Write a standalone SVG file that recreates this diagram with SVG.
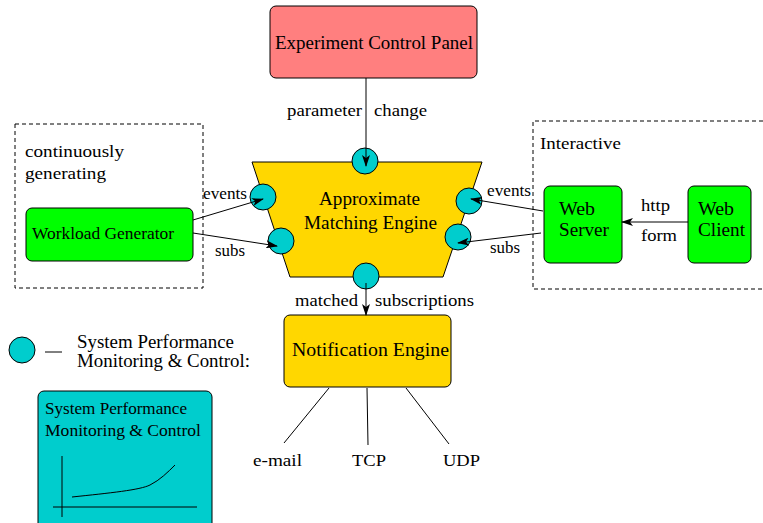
<svg xmlns="http://www.w3.org/2000/svg" width="763" height="523" viewBox="0 0 763 523">
  <style>
    text { font-family: "Liberation Serif", "DejaVu Serif", "Times New Roman", serif; fill: #000; }
    .t15 { font-size: 17px; }
    .t17 { font-size: 19px; }
    .mid { text-anchor: middle; }
    .box { stroke: #000; stroke-width: 1; }
    .green { fill: #00ff00; }
    .gold { fill: #ffd700; }
    .probe { fill: #00cdcd; stroke: #000; stroke-width: 1; }
    .dash { fill: none; stroke: #000; stroke-width: 1; stroke-dasharray: 4 3; }
    .conn { stroke: #000; stroke-width: 1; fill: none; }
  </style>
  <defs>
    <marker id="head" viewBox="0 0 12 8" refX="11" refY="4" markerWidth="12" markerHeight="8" markerUnits="userSpaceOnUse" orient="auto">
      <path d="M0,0 L12,4 L0,8 L3,4 Z" fill="#000"/>
    </marker>
  </defs>
  <rect width="763" height="523" fill="#fff"/>

  <!-- group frames -->
  <g id="workload-area">
    <rect class="dash" x="15" y="124" width="188" height="164"/>
    <text class="t15" x="25" y="157" textLength="99" lengthAdjust="spacingAndGlyphs">continuously</text>
    <text class="t15" x="25" y="179" textLength="81" lengthAdjust="spacingAndGlyphs">generating</text>
  </g>
  <g id="interactive-area">
    <path class="dash" d="M763,121 H533 V289 H763"/>
    <text class="t15" x="540" y="149" textLength="81" lengthAdjust="spacingAndGlyphs">Interactive</text>
  </g>

  <g id="experiment-control-panel">
    <rect class="box" x="270" y="6" width="207" height="72" rx="6" fill="#ff7f7f"/>
    <text class="t17" x="275" y="49" textLength="198" lengthAdjust="spacingAndGlyphs">Experiment Control Panel</text>
  </g>

  <g id="matching-engine">
    <polygon class="box gold" points="252,162 482,162 443,277 290,277"/>
    <text class="t17" x="319" y="205" textLength="101" lengthAdjust="spacingAndGlyphs">Approximate</text>
    <text class="t17" x="304" y="229" textLength="133" lengthAdjust="spacingAndGlyphs">Matching Engine</text>
    <circle class="probe" cx="365" cy="161" r="13"/>
    <circle class="probe" cx="263" cy="197" r="13"/>
    <circle class="probe" cx="281" cy="241" r="13"/>
    <circle class="probe" cx="469" cy="201" r="13"/>
    <circle class="probe" cx="458" cy="237" r="13"/>
    <circle class="probe" cx="366" cy="276" r="13"/>
  </g>

  <g id="workload-generator">
    <rect class="box green" x="26" y="208" width="167" height="53" rx="6"/>
    <text class="t15" x="32" y="239" textLength="142" lengthAdjust="spacingAndGlyphs">Workload Generator</text>
  </g>

  <g id="web-server">
    <rect class="box green" x="544" y="186" width="78" height="77" rx="6"/>
    <text class="t17" x="559" y="215" textLength="36" lengthAdjust="spacingAndGlyphs">Web</text>
    <text class="t17" x="559" y="236" textLength="50" lengthAdjust="spacingAndGlyphs">Server</text>
  </g>

  <g id="web-client">
    <rect class="box green" x="688" y="186" width="63" height="77" rx="6"/>
    <text class="t17" x="698" y="215" textLength="36" lengthAdjust="spacingAndGlyphs">Web</text>
    <text class="t17" x="698" y="236" textLength="47" lengthAdjust="spacingAndGlyphs">Client</text>
  </g>

  <g id="notification-engine">
    <rect class="box gold" x="284" y="315" width="167" height="72" rx="6"/>
    <text class="t17" x="292" y="356" textLength="157" lengthAdjust="spacingAndGlyphs">Notification  Engine</text>
  </g>

  <g id="connectors">
    <line class="conn" x1="366" y1="78" x2="366" y2="166" marker-end="url(#head)"/>
    <line class="conn" x1="193" y1="220" x2="263" y2="199" marker-end="url(#head)"/>
    <line class="conn" x1="193" y1="233" x2="277" y2="246" marker-end="url(#head)"/>
    <line class="conn" x1="543" y1="211" x2="471" y2="199" marker-end="url(#head)"/>
    <line class="conn" x1="541" y1="233" x2="458" y2="243" marker-end="url(#head)"/>
    <line class="conn" x1="688" y1="222" x2="622" y2="222" marker-end="url(#head)"/>
    <line class="conn" x1="366" y1="283" x2="366" y2="315" marker-end="url(#head)"/>
    <line class="conn" x1="329" y1="388" x2="284" y2="443"/>
    <line class="conn" x1="367" y1="388" x2="368" y2="445"/>
    <line class="conn" x1="406" y1="388" x2="449" y2="444"/>
  </g>

  <g id="connector-labels">
    <text class="t15" x="287" y="116" textLength="75" lengthAdjust="spacingAndGlyphs">parameter</text>
    <text class="t15" x="374" y="116" textLength="53" lengthAdjust="spacingAndGlyphs">change</text>
    <text class="t15" x="203" y="199" textLength="44" lengthAdjust="spacingAndGlyphs">events</text>
    <text class="t15" x="215" y="256" textLength="30" lengthAdjust="spacingAndGlyphs">subs</text>
    <text class="t15" x="487" y="196" textLength="44" lengthAdjust="spacingAndGlyphs">events</text>
    <text class="t15" x="490" y="253" textLength="30" lengthAdjust="spacingAndGlyphs">subs</text>
    <text class="t15" x="641" y="211" textLength="29" lengthAdjust="spacingAndGlyphs">http</text>
    <text class="t15" x="641" y="241" textLength="36" lengthAdjust="spacingAndGlyphs">form</text>
    <text class="t15" x="295" y="306" textLength="63" lengthAdjust="spacingAndGlyphs">matched</text>
    <text class="t15" x="375" y="306" textLength="99" lengthAdjust="spacingAndGlyphs">subscriptions</text>
    <text class="t15" x="253" y="466" textLength="49" lengthAdjust="spacingAndGlyphs">e-mail</text>
    <text class="t15" x="352" y="466" textLength="34" lengthAdjust="spacingAndGlyphs">TCP</text>
    <text class="t15" x="443" y="466" textLength="37" lengthAdjust="spacingAndGlyphs">UDP</text>
  </g>

  <g id="legend">
    <circle class="probe" cx="22" cy="350" r="13"/>
    <line class="conn" x1="45" y1="352" x2="62" y2="352"/>
    <text class="t17" x="77" y="348" textLength="157" lengthAdjust="spacingAndGlyphs">System Performance</text>
    <text class="t17" x="77" y="367" textLength="173" lengthAdjust="spacingAndGlyphs">Monitoring &amp; Control:</text>
  </g>

  <g id="performance-monitor">
    <rect class="box" x="38" y="391" width="174" height="140" rx="6" fill="#00cdcd"/>
    <text class="t15" x="45" y="414" textLength="142" lengthAdjust="spacingAndGlyphs">System Performance</text>
    <text class="t15" x="45" y="436" textLength="156" lengthAdjust="spacingAndGlyphs">Monitoring &amp;  Control</text>
    <line class="conn" x1="62" y1="456" x2="62" y2="517"/>
    <line class="conn" x1="53" y1="507" x2="197" y2="507"/>
    <path class="conn" d="M72,497 C110,493 140,490 150,485 C160,480 168,472 175,465"/>
  </g>
</svg>
